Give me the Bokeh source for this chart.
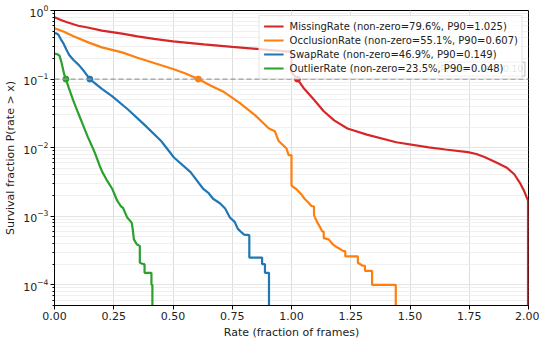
from bokeh.plotting import figure
from bokeh.models import (Range1d, LogAxis, LogScale, FixedTicker, LogTickFormatter, PrintfTickFormatter,
                          Span, Label, Legend, LegendItem, Grid)
from bokeh.embed import file_html
from bokeh.resources import INLINE

# ---------------- data ----------------
ZERO = 1e-6  # stands in for a survival of 0 (falls below the axis)

missing_x = [0.0, 0.01, 0.03, 0.05, 0.08, 0.10, 0.145, 0.20, 0.285, 0.35, 0.42, 0.50, 0.63, 0.75,
             0.876, 0.95, 1.0, 1.0, 1.025, 1.05, 1.095, 1.136, 1.18, 1.236, 1.318, 1.442, 1.579,
             1.65, 1.744, 1.78, 1.814, 1.86, 1.909, 1.94, 1.963, 1.98, 1.992, 1.998, 1.998]
missing_y = [0.80, 0.77, 0.72, 0.68, 0.63, 0.60, 0.56, 0.51, 0.46, 0.42, 0.385, 0.355, 0.32, 0.295,
             0.272, 0.258, 0.25, 0.125, 0.10, 0.075, 0.05, 0.034, 0.025, 0.019, 0.0155, 0.012, 0.0101,
             0.0094, 0.0086, 0.0081, 0.0073, 0.0062, 0.0051, 0.0041, 0.0031, 0.0024, 0.0019, 0.0017, ZERO]

occlusion_x = [0.0, 0.02, 0.04, 0.08, 0.145, 0.20, 0.285, 0.35, 0.42, 0.50, 0.55, 0.607, 0.66, 0.711,
               0.781, 0.847, 0.905, 0.93, 0.946, 0.979, 0.988, 1.0, 1.0, 1.012, 1.02, 1.041, 1.055,
               1.07, 1.085, 1.095, 1.095, 1.11, 1.12, 1.13, 1.136, 1.136, 1.157, 1.174, 1.194, 1.219,
               1.227, 1.227, 1.28, 1.28, 1.30, 1.31, 1.31, 1.34, 1.34, 1.44, 1.44]
occlusion_y = [0.551, 0.52, 0.49, 0.42, 0.34, 0.29, 0.245, 0.205, 0.172, 0.14, 0.122, 0.10, 0.08, 0.066,
               0.045, 0.0296, 0.019, 0.0173, 0.0125, 0.0097, 0.0078, 0.0078, 0.0028, 0.0026, 0.0025,
               0.0021, 0.0018, 0.0016, 0.0014, 0.0014, 0.00103, 0.0008, 0.0007, 0.0006, 0.0006, 0.00048,
               0.00046, 0.00039, 0.00035, 0.00031, 0.00031, 0.00026, 0.00026, 0.00021, 0.00019, 0.00019,
               0.00016, 0.00016, 0.0001, 0.0001, ZERO]

swap_x = [0.0, 0.01, 0.017, 0.027, 0.037, 0.05, 0.062, 0.08, 0.103, 0.125, 0.149, 0.20, 0.244, 0.31,
          0.38, 0.45, 0.504, 0.574, 0.628, 0.649, 0.669, 0.698, 0.72, 0.74, 0.76, 0.773, 0.785, 0.80,
          0.822, 0.822, 0.876, 0.876, 0.888, 0.888, 0.905, 0.905]
swap_y = [0.469, 0.46, 0.44, 0.38, 0.335, 0.27, 0.225, 0.19, 0.16, 0.13, 0.10, 0.072, 0.056, 0.036,
          0.0215, 0.0125, 0.0072, 0.0044, 0.0025, 0.0022, 0.0018, 0.00155, 0.0013, 0.00096, 0.00083,
          0.00066, 0.0006, 0.00054, 0.00053, 0.00025, 0.00025, 0.0002, 0.0002, 0.00015, 0.00015, ZERO]

outlier_x = [0.0, 0.012, 0.021, 0.029, 0.041, 0.048, 0.06, 0.079, 0.10, 0.12, 0.14, 0.161, 0.174, 0.19,
             0.202, 0.22, 0.244, 0.264, 0.28, 0.289, 0.306, 0.32, 0.326, 0.33, 0.335, 0.347, 0.36,
             0.36, 0.376, 0.38, 0.38, 0.409, 0.409, 0.413, 0.413]
outlier_y = [0.235, 0.23, 0.22, 0.178, 0.117, 0.10, 0.075, 0.049, 0.032, 0.0215, 0.0145, 0.010, 0.0078,
             0.0055, 0.0044, 0.0034, 0.0025, 0.0017, 0.0014, 0.00133, 0.00097, 0.00085, 0.0008, 0.00065,
             0.00046, 0.00039, 0.00037, 0.00021, 0.0002, 0.0002, 0.00015, 0.00015, 0.0001, 0.0001, ZERO]

series_names = ["MissingRate", "OcclusionRate", "SwapRate", "OutlierRate"]
nonzero_pct = [79.6, 55.1, 46.9, 23.5]
p90_values = [1.025, 0.607, 0.149, 0.048]
colors = ["#d62728", "#ff7f0e", "#1f77b4", "#2ca02c"]
threshold = 0.10

x_ticks = [0.0, 0.25, 0.5, 0.75, 1.0, 1.25, 1.5, 1.75, 2.0]
y_ticks = [1e-4, 1e-3, 1e-2, 1e-1, 1.0]
y_minor_ticks = [m * 10.0 ** e for e in (-5, -4, -3, -2, -1) for m in (2, 3, 4, 5, 6, 7, 8, 9)]

# ---------------- figure ----------------
FONT = "DejaVu Sans"
p = figure(width=539, height=341, x_range=Range1d(0, 2), y_range=Range1d(5e-5, 1.0),
           y_axis_type=None, output_backend="svg", toolbar_location=None,
           min_border_left=54, min_border_right=11, min_border_top=10, min_border_bottom=34)
p.y_scale = LogScale()
p.outline_line_color = "black"
p.outline_line_width = 1
p.background_fill_color = "white"

yaxis = LogAxis(ticker=FixedTicker(ticks=y_ticks, minor_ticks=y_minor_ticks),
                formatter=LogTickFormatter())
p.add_layout(yaxis, "left")

p.xaxis.ticker = FixedTicker(ticks=x_ticks)
p.xaxis.formatter = PrintfTickFormatter(format="%.2f")

for ax in (p.xaxis[0], yaxis):
    ax.major_label_text_font = FONT
    ax.major_label_text_font_size = "11px"
    ax.major_label_text_color = "#222222"
    ax.axis_label_text_font = FONT
    ax.axis_label_text_font_size = "11px"
    ax.axis_label_text_font_style = "normal"
    ax.axis_label_text_color = "#222222"
    ax.axis_line_color = "black"
    ax.major_tick_line_color = "black"
    ax.minor_tick_line_color = "black"
    ax.major_tick_in = 0
    ax.major_tick_out = 4
    ax.minor_tick_in = 0
    ax.minor_tick_out = 2
    ax.major_label_standoff = 2
    ax.axis_label_standoff = 3
p.xaxis.minor_tick_line_color = None
p.xaxis.axis_label = "Rate (fraction of frames)"
yaxis.axis_label = "Survival fraction P(rate > x)"

p.xgrid.ticker = FixedTicker(ticks=x_ticks)
p.xgrid.grid_line_color = "#dedede"
p.ygrid.visible = False
ygrid = Grid(dimension=1, ticker=yaxis.ticker, grid_line_color="#dedede",
             minor_grid_line_color="#ececec", grid_line_width=0.8, minor_grid_line_width=0.8)
p.add_layout(ygrid)

p.add_layout(Span(location=threshold, dimension="width", line_color="#9a9a9a",
                  line_dash="5 3", line_width=1.2))

all_x = [missing_x, occlusion_x, swap_x, outlier_x]
all_y = [missing_y, occlusion_y, swap_y, outlier_y]
items = []
for name, xs, ys, c, nz, p90 in zip(series_names, all_x, all_y, colors, nonzero_pct, p90_values):
    r = p.line(xs, ys, line_color=c, line_width=2.2)
    p.scatter([p90], [threshold], size=6, fill_color=c, line_color=c)
    items.append(LegendItem(label=f"{name} (non-zero={nz:.1f}%, P90={p90:.3f})", renderers=[r]))

p.add_layout(Label(x=1.985, y=threshold, y_offset=3, text="P(rate > x) = 0.10",
                   text_align="right", text_baseline="bottom", text_font=FONT,
                   text_font_size="9px", text_color="#777777",
                   background_fill_color="white", background_fill_alpha=0.8,
                   border_line_color="#bbbbbb", padding=2))

legend = Legend(items=items, location="top_right", label_text_font=FONT,
                label_text_font_size="10px", label_text_color="#222222",
                border_line_color="#cccccc", background_fill_alpha=0.8,
                glyph_width=20, glyph_height=12, label_height=12, spacing=2, padding=4,
                margin=5, label_standoff=6)
p.add_layout(legend)

open("out.html", "w").write(file_html(p, INLINE))
